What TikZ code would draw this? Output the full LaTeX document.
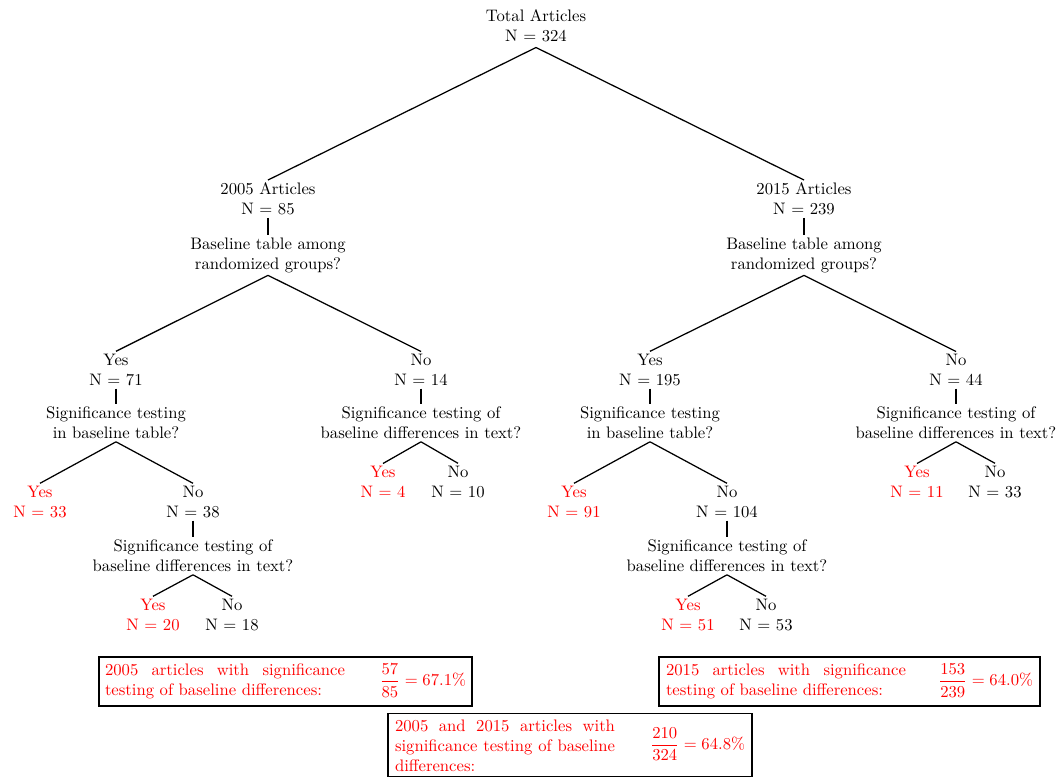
\documentclass[tikz,border=0pt]{standalone}
\usepackage{amsmath}
\begin{document}
\begin{tikzpicture}[x=0.6pt,y=-0.6pt,
  lbl/.style={align=center,inner sep=1.5pt},
  redlbl/.style={lbl,text=red},
  qn/.style={align=center,inner sep=1.5pt},
  edge/.style={draw,line width=0.75pt},
  sumbox/.style={draw,line width=0.8pt,text=red,align=justify,inner ysep=2pt,minimum height=29.4pt}]
\useasboundingbox (0,0) rectangle (1059,776);
% root
\node[lbl,inner sep=3pt] (root) at (536,26) {Total Articles\\N = 324};
% 2005
\node[lbl] (a05) at (268,199) {2005 Articles\\N = 85};
\node[qn]  (q05) at (268,255) {Baseline table among\\randomized groups?};
% 2015
\node[lbl] (a15) at (804,199) {2015 Articles\\N = 239};
\node[qn]  (q15) at (804,255) {Baseline table among\\randomized groups?};
% 2005 yes
\node[lbl] (y05) at (116,370) {Yes\\N = 71};
\node[qn]  (qy05) at (116,423) {Significance testing\\in baseline table?};
\node[redlbl] (y05y) at (40,502) {Yes\\N = 33};
\node[lbl] (y05n) at (193,502) {No\\N = 38};
\node[qn]  (qy05n) at (193,556) {Significance testing of\\baseline differences in text?};
\node[redlbl] (y05ny) at (153,615) {Yes\\N = 20};
\node[lbl] (y05nn) at (232,615) {No\\N = 18};
% 2005 no
\node[lbl] (n05) at (421,370) {No\\N = 14};
\node[qn]  (qn05) at (421,423) {Significance testing of\\baseline differences in text?};
\node[redlbl] (n05y) at (383,482) {Yes\\N = 4};
\node[lbl] (n05n) at (458,482) {No\\N = 10};
% 2015 yes
\node[lbl] (y15) at (650,370) {Yes\\N = 195};
\node[qn]  (qy15) at (650,423) {Significance testing\\in baseline table?};
\node[redlbl] (y15y) at (574,502) {Yes\\N = 91};
\node[lbl] (y15n) at (727,502) {No\\N = 104};
\node[qn]  (qy15n) at (727,556) {Significance testing of\\baseline differences in text?};
\node[redlbl] (y15ny) at (688,615) {Yes\\N = 51};
\node[lbl] (y15nn) at (766,615) {No\\N = 53};
% 2015 no
\node[lbl] (n15) at (956,370) {No\\N = 44};
\node[qn]  (qn15) at (956,423) {Significance testing of\\baseline differences in text?};
\node[redlbl] (n15y) at (917,482) {Yes\\N = 11};
\node[lbl] (n15n) at (995,482) {No\\N = 33};
% edges
\draw[edge] (root.south) -- (a05.north);
\draw[edge] (root.south) -- (a15.north);
\draw[edge] (a05) -- (q05);
\draw[edge] (a15) -- (q15);
\draw[edge] (q05.south) -- (y05.north);
\draw[edge] (q05.south) -- (n05.north);
\draw[edge] (q15.south) -- (y15.north);
\draw[edge] (q15.south) -- (n15.north);
\draw[edge] (y05) -- (qy05);
\draw[edge] (n05) -- (qn05);
\draw[edge] (y15) -- (qy15);
\draw[edge] (n15) -- (qn15);
\draw[edge] (qy05.south) -- (y05y.north);
\draw[edge] (qy05.south) -- (y05n.north);
\draw[edge] (y05n) -- (qy05n);
\draw[edge] (qy05n.south) -- (y05ny.north);
\draw[edge] (qy05n.south) -- (y05nn.north);
\draw[edge] (qn05.south) -- (n05y.north);
\draw[edge] (qn05.south) -- (n05n.north);
\draw[edge] (qy15.south) -- (y15y.north);
\draw[edge] (qy15.south) -- (y15n.north);
\draw[edge] (y15n) -- (qy15n);
\draw[edge] (qy15n.south) -- (y15ny.north);
\draw[edge] (qy15n.south) -- (y15nn.north);
\draw[edge] (qn15.south) -- (n15y.north);
\draw[edge] (qn15.south) -- (n15n.north);
% summary boxes
\node[sumbox,inner xsep=3.6pt,text width=216.6pt] (box05) at (285.5,681.5)
  {\noindent\parbox[c]{144pt}{\rightskip=0pt\relax 2005 articles with significance\linebreak testing of baseline differences:}\hfill$\displaystyle\frac{57}{85}=67.1\%$};
\node[sumbox,inner xsep=4.2pt,text width=220.2pt] (box15) at (849.5,681.5)
  {\noindent\parbox[c]{144pt}{\rightskip=0pt\relax 2015 articles with significance\linebreak testing of baseline differences:}\hfill$\displaystyle\frac{153}{239}=64.0\%$};
\node[sumbox,inner xsep=4.2pt,inner ysep=3.5pt,text width=210pt,anchor=north] (boxall) at (570,713)
  {\noindent\parbox[c]{132pt}{\rightskip=0pt\relax 2005 and 2015 articles with\linebreak significance testing of baseline\linebreak differences:}\hfill$\displaystyle\frac{210}{324}=64.8\%$};
\end{tikzpicture}
\end{document}
